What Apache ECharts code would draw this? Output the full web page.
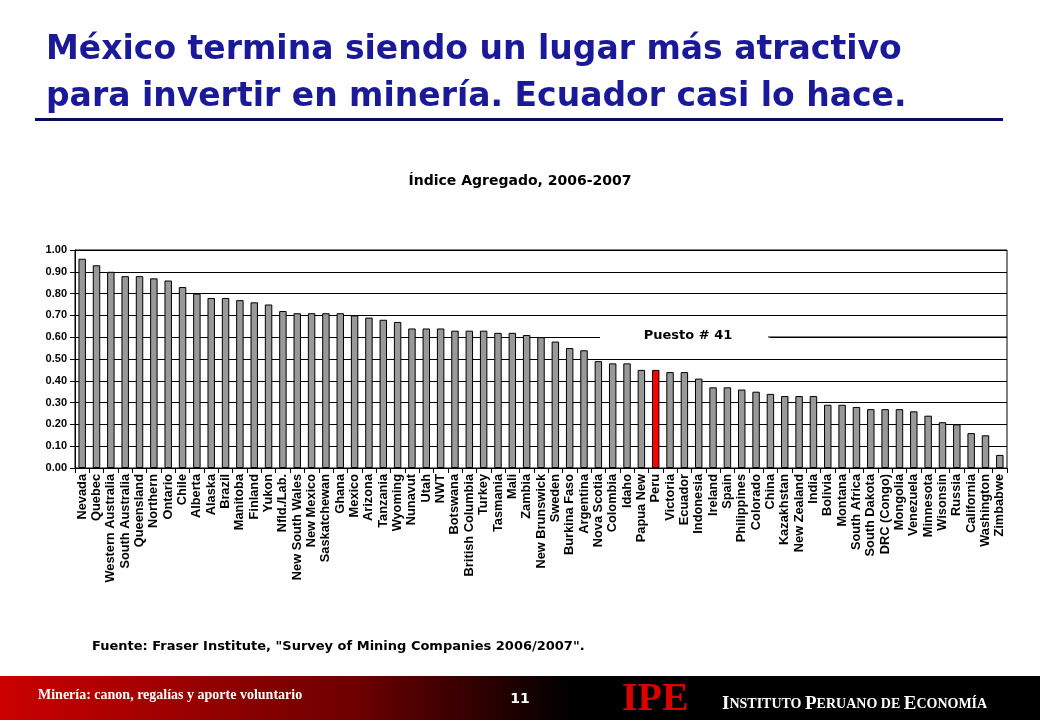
<!DOCTYPE html>
<html><head><meta charset="utf-8">
<script src="https://cdn.jsdelivr.net/npm/echarts@6/dist/echarts.min.js"></script>
<style>html,body{margin:0;padding:0;background:#fff}#c{width:1040px;height:720px}</style>
</head><body><div id="c"></div>
<script>
const categories = ["Nevada","Quebec","Western Australia","South Australia","Queensland","Northern","Ontario","Chile","Alberta","Alaska","Brazil","Manitoba","Finland","Yukon","Nfld./Lab.","New South Wales","New Mexico","Saskatchewan","Ghana","Mexico","Arizona","Tanzania","Wyoming","Nunavut","Utah","NWT","Botswana","British Columbia","Turkey","Tasmania","Mali","Zambia","New Brunswick","Sweden","Burkina Faso","Argentina","Nova Scotia","Colombia","Idaho","Papua New","Peru","Victoria","Ecuador","Indonesia","Ireland","Spain","Philippines","Colorado","China","Kazakhstan","New Zealand","India","Bolivia","Montana","South Africa","South Dakota","DRC (Congo)","Mongolia","Venezuela","Minnesota","Wisonsin","Russia","California","Washington","Zimbabwe"];
const values = [0.96,0.93,0.90,0.88,0.88,0.87,0.86,0.83,0.80,0.78,0.78,0.77,0.76,0.75,0.72,0.71,0.71,0.71,0.71,0.70,0.69,0.68,0.67,0.64,0.64,0.64,0.63,0.63,0.63,0.62,0.62,0.61,0.60,0.58,0.55,0.54,0.49,0.48,0.48,0.45,0.45,0.44,0.44,0.41,0.37,0.37,0.36,0.35,0.34,0.33,0.33,0.33,0.29,0.29,0.28,0.27,0.27,0.27,0.26,0.24,0.21,0.20,0.16,0.15,0.06];
const highlight = "Peru";
const F = "DejaVu Sans, Verdana, sans-serif";
const chart = echarts.init(document.getElementById('c'));
chart.setOption({
  animation:false,
  grid:{left:75,right:33,top:250,bottom:252,show:true,borderColor:'#000',borderWidth:1},
  xAxis:{type:'category',data:categories,
    axisLine:{lineStyle:{color:'#000'}},axisTick:{show:true,lineStyle:{color:'#000'}},
    axisLabel:{rotate:90,interval:0,fontFamily:'Liberation Sans, Arial',fontWeight:'bold',fontSize:12.8,color:'#000',margin:6}},
  yAxis:{type:'value',min:0,max:1,interval:0.1,
    axisLine:{show:true,lineStyle:{color:'#000'}},axisTick:{show:true,lineStyle:{color:'#000'}},
    splitLine:{lineStyle:{color:'#000',width:1}},
    axisLabel:{formatter:v=>v.toFixed(2),fontFamily:'Liberation Sans, Arial',fontWeight:'bold',fontSize:11,color:'#000'}},
  series:[{type:'bar',barWidth:'52%',
    data:values.map((v,i)=>({value:v,itemStyle:{color:categories[i]===highlight?'#ff0000':'#999999',borderColor:'#000',borderWidth:1}}))}],
  graphic:[
    {type:'text',left:46,top:27,style:{text:'México termina siendo un lugar más atractivo\npara invertir en minería. Ecuador casi lo hace.',font:'bold 33px '+F,fill:'#1a1a99',lineHeight:47}},
    {type:'rect',shape:{x:35,y:118,width:968,height:3},style:{fill:'#0a0a5a'}},
    {type:'text',x:520,y:181,style:{text:'Índice Agregado, 2006-2007',font:'bold 14px '+F,fill:'#000',align:'center',verticalAlign:'middle'}},
    {type:'rect',shape:{x:600,y:326,width:170,height:20},style:{fill:'#fff'},z:10},
    {type:'line',shape:{x1:768,y1:337,x2:1007,y2:337},style:{stroke:'#000',lineWidth:1},z:11},
    {type:'text',x:688,y:336,style:{text:'Puesto # 41',font:'bold 13px '+F,fill:'#000',align:'center',verticalAlign:'middle'},z:12},
    {type:'text',left:92,top:640,style:{text:'Fuente: Fraser Institute, "Survey of Mining Companies 2006/2007".',font:'bold 13px '+F,fill:'#000'}},
    {type:'rect',shape:{x:0,y:676,width:1040,height:44},style:{fill:new echarts.graphic.LinearGradient(0,0,1,0,[{offset:0,color:'#cc0000'},{offset:0.35,color:'#6a0000'},{offset:0.55,color:'#000'},{offset:1,color:'#000'}])}},
    {type:'text',left:38,top:688,style:{text:'Minería: canon, regalías y aporte voluntario',font:'bold 14px Liberation Serif, serif',fill:'#fff',shadowColor:'#000',shadowOffsetX:1,shadowOffsetY:1,shadowBlur:1}},
    {type:'text',x:520,y:699,style:{text:'11',font:'bold 14px '+F,fill:'#fff',align:'center',verticalAlign:'middle'}},
    {type:'text',left:622,top:680,style:{text:'IPE',font:'bold 40px Liberation Serif, serif',fill:'#dd0000'}},
    {type:'text',left:722,top:695,style:{rich:{b:{font:'bold 19px Liberation Serif, serif',fill:'#fff'},s:{font:'bold 14px Liberation Serif, serif',fill:'#fff'}},text:'{b|I}{s|NSTITUTO }{b|P}{s|ERUANO DE }{b|E}{s|CONOMÍA}'}}
  ]
});
</script></body></html>
